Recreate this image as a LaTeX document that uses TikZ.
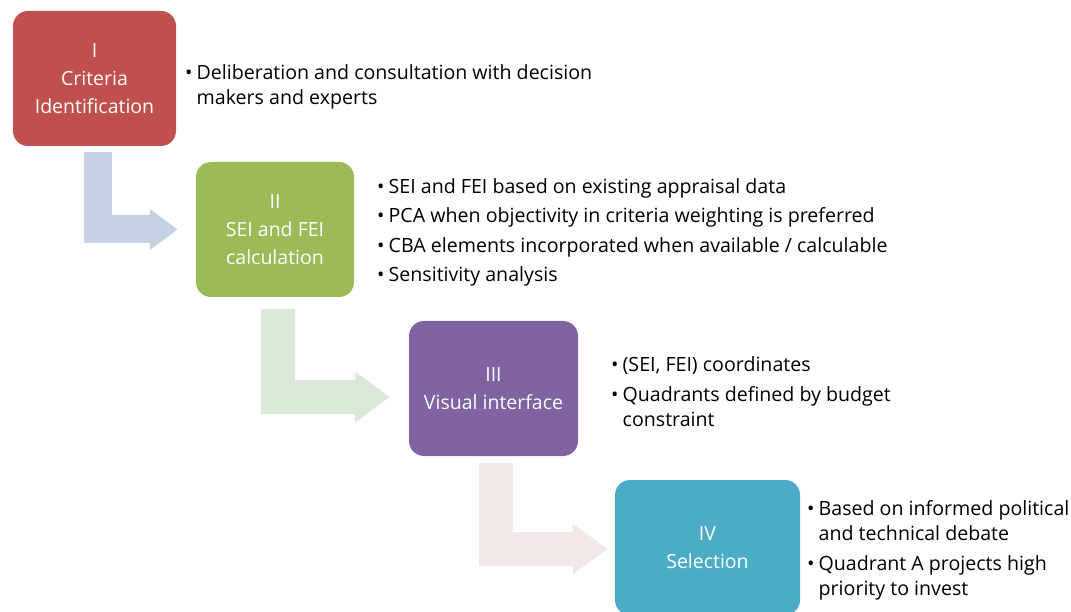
\documentclass[tikz,border=0pt]{standalone}
\usepackage{fontspec}
\setmainfont{Open Sans}
\usepackage{tikz}
\usetikzlibrary{arrows.meta}

\definecolor{boxred}{HTML}{C0504D}
\definecolor{boxgreen}{HTML}{9BBB59}
\definecolor{boxpurple}{HTML}{8064A2}
\definecolor{boxaqua}{HTML}{4BACC6}
\definecolor{flowblue}{HTML}{C5D0E3}
\definecolor{flowgreen}{HTML}{DAE9D8}
\definecolor{flowpink}{HTML}{F2E8E8}

\newcommand{\bul}{\makebox[11.5pt][l]{\textbullet}}
\newcommand{\hang}{\hspace*{11.5pt}}

\begin{document}
\begin{tikzpicture}
        [
        x=1pt, y=-1pt,
        box/.style={rectangle,rounded corners=15pt,minimum height=135pt,
            text=white,align=center,inner sep=0pt,
            font=\fontsize{19.5}{28}\selectfont},
        note/.style={anchor=west,align=left,inner sep=0pt,
            font=\fontsize{19.6}{25}\selectfont},
        flow/.style={line join=miter,line cap=butt}
        ]
    \useasboundingbox (0,0) rectangle (1071,612);
    \clip (0,0) rectangle (1071,612);
    \node[box,fill=boxred,minimum width=163pt] (1) at (94.5,78.5) {I\\Criteria\\Identification};
    \node[box,fill=boxgreen,minimum width=158pt] (2) at (275,229.5) {II\\SEI and FEI\\calculation};
    \node[box,fill=boxpurple,minimum width=169pt] (3) at (493.5,388.5) {III\\Visual interface};
    \node[box,fill=boxaqua,minimum width=185pt] (4) at (707.5,547.5) {IV\\Selection};
    \node[note] (n1) at (185,86.5) {\bul Deliberation and consultation with decision\\
        \hang makers and experts};
    \node[note] (n2) at (377,232.5) {\bul SEI and FEI based on existing appraisal data\\[4.5pt]
        \bul PCA when objectivity in criteria weighting is preferred\\[4.5pt]
        \bul CBA elements incorporated when available / calculable\\[4.5pt]
        \bul Sensitivity analysis};
    \node[note] (n3) at (611,391.5) {\bul (SEI, FEI) coordinates\\[5pt]
        \bul Quadrants defined by budget\\
        \hang constraint};
    \node[note] (n4) at (807,550.5) {\bul Based on informed political\\
        \hang and technical debate\\[5pt]
        \bul Quadrant A projects high\\
        \hang priority to invest};
    \draw[flow,flowblue,line width=28pt,-{Triangle[width=39pt,length=28pt]}]
        ([xshift=3.5pt,yshift=-6pt]1.south) |- ([xshift=-18pt]2.west);
    \draw[flow,flowgreen,line width=34pt,-{Triangle[width=49pt,length=35pt]}]
        ([xshift=3pt,yshift=-12pt]2.south) |- ([xshift=-19pt,yshift=-8.5pt]3.west);
    \draw[flow,flowpink,line width=34pt,-{Triangle[width=48pt,length=35pt]}]
        ([xshift=2.5pt,yshift=-7pt]3.south) |- ([xshift=-7pt,yshift=-1.5pt]4.west);
    \end{tikzpicture}
\end{document}
